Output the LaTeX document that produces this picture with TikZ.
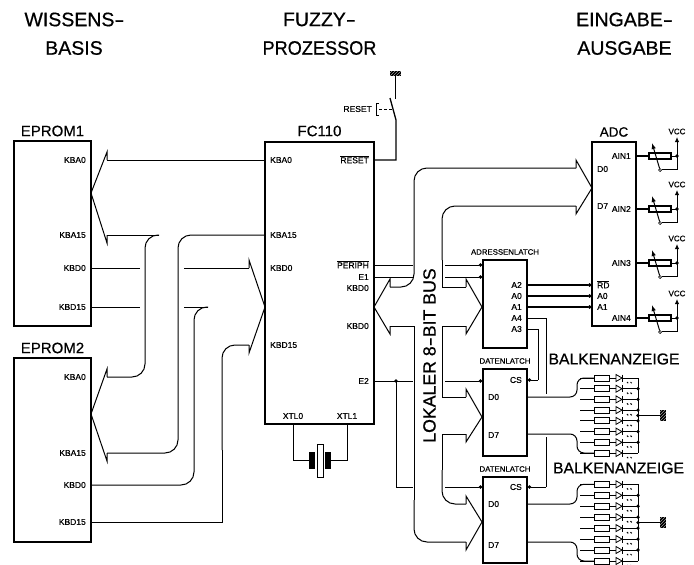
\documentclass[tikz,border=0pt]{standalone}
\usepackage{fontspec}
\setmainfont[FakeBold=0.6]{Liberation Sans}
\usetikzlibrary{arrows.meta,calc}
\newcommand{\fsz}[1]{\fontsize{#1}{#1}\selectfont}
\newcommand{\ovl}[1]{\leavevmode\vbox{\hrule height .7pt \kern .9pt \hbox{#1}}}
\newcommand{\wdash}{\scalebox{1.55}[1]{-}}
\tikzset{
  chip/.style={draw,line width=1.5pt,inner sep=0pt,minimum width=#1},
  lab/.style={font=\fsz{8.5},inner sep=0pt},
  lablatch/.style={font=\fsz{7.8},inner sep=0pt},
  title/.style={font=\fsz{15},inner sep=0pt},
  head/.style={font=\fsz{19.5},inner sep=0pt},
  balken/.style={font=\fsz{15.7},inner sep=0pt},
  wire/.style={line width=1pt},
  bus/.style={line width=1pt,rounded corners=13pt},
  sig/.style={line width=1pt,-{Circle[length=3.4pt,width=3.4pt]}},
}
% bus arrowhead: name, tip x, tip y, barb x, upper notch y, lower notch y
\newcommand{\bushead}[6]{%
  \coordinate (#1-tip) at (#2,#3);
  \coordinate (#1-a) at (#4,#5);
  \coordinate (#1-b) at (#4,#6);
  \draw[wire,line join=miter] (#1-a) -- ++(0,-8) -- (#1-tip) -- ($(#1-b)+(0,8)$) -- (#1-b);
}
% hatched ground block
\newcommand{\hatchblock}[4]{%
  \fill (#1,#2) rectangle (#3,#4);
  \begin{scope}
    \clip (#1,#2) rectangle (#3,#4);
    \foreach \k in {-15,-12,...,15}
      \draw[white,line width=.3pt] (#1+\k,#4) -- ++(14,-14);
  \end{scope}
}
% one row of a bar display
\newcommand{\ledrow}[1]{%
  \draw[wire] (580,#1) -- (594,#1) (609,#1) -- (616,#1) (622,#1) -- (638,#1);
  \draw[line width=1pt] (594,#1-3) rectangle (609,#1+3);
  \draw[line width=.8pt] (616,#1-3.5) -- (616,#1+3.5) -- (622,#1) -- cycle;
  \draw[line width=1.1pt] (622.5,#1-3.5) -- (622.5,#1+3.5);
  \draw[line width=1pt] (627,#1+4) -- (628.2,#1+5.2) (630.5,#1+4) -- (631.7,#1+5.2);
}
% potentiometer of an analog input
\newcommand{\potm}[2]{%
  \coordinate (#2) at (adc.east |- 0,#1);
  \draw[line width=1.2pt] (#2) -- (649,#1);
  \draw[line width=1.1pt] (649,#1-3) rectangle (671,#1+3);
  \draw[wire] (671,#1) -- (677,#1);
  \fill (677,#1) circle (1.8);
  \draw[line width=1pt,-{Latex[length=5pt,width=4.5pt]}] (677,#1) -- (677,#1-19);
  \draw[wire] (677,#1) -- (677,#1+13) -- (661.5,#1+13);
  \draw[line width=.7pt] (660,#1+14) circle (1.5);
  \draw[line width=1pt,-{Latex[length=6pt,width=4.5pt]}] (659.6,#1+12.5) -- (652,#1-13);
  \node[lab,font=\fsz{8}] (vcc#2) at (677,#1-24.5) {VCC};
}
\begin{document}
\begin{tikzpicture}[x=1pt,y=-1pt]
\useasboundingbox (0,0) rectangle (694,565);
% headings
\node[head] (h1a) at (74.5,19.5) {WISSENS\wdash};
\node[head] (h1b) at (74,48) {BASIS};
\node[head] (h2a) at (319.5,19.5) {FUZZY\wdash};
\node[head] (h2b) at (319.5,48) {\scalebox{.93}[1]{PROZESSOR}};
\node[head] (h3a) at (624.5,19.5) {EINGABE\wdash};
\node[head] (h3b) at (624.5,48) {AUSGABE};
% chips
\node[chip=77pt,minimum height=185pt] (ep1) at (52.5,233.5) {};
\node[chip=77pt,minimum height=184pt] (ep2) at (52.5,450) {};
\node[chip=109pt,minimum height=282pt] (fc) at (319.5,283) {};
\node[chip=44pt,minimum height=184pt] (adc) at (614,234) {};
\node[chip=44pt,minimum height=88pt] (al) at (505,304) {};
\node[chip=44pt,minimum height=87pt] (dl1) at (505,412.5) {};
\node[chip=44pt,minimum height=86pt] (dl2) at (505,520) {};
% chip titles
\node[title] (t1) at (52.5,131) {EPROM1};
\node[title] (t2) at (52.5,348) {EPROM2};
\node[title] (t3) at (319.5,131) {FC110};
\node[title,font=\fsz{13.5}] (t4) at (614,132) {ADC};
\node[lablatch] (t5) at (505,252) {ADRESSENLATCH};
\node[lablatch] (t6) at (505,361) {DATENLATCH};
\node[lablatch] (t7) at (505,469) {DATENLATCH};
\node[balken] (b1) at (614,359) {BALKENANZEIGE};
\node[balken] (b2) at (618.5,468) {BALKENANZEIGE};
\node[font=\fsz{17.7},inner sep=0pt,rotate=90] (lb) at (429.5,355.5) {LOKALER 8\wdash BIT BUS};
% pin labels
\foreach \n/\t/\y in {a/KBA0/160,b/KBA15/235,c/KBD0/268,d/KBD15/307}
  \node[lab,anchor=east] (e1\n) at (86,\y) {\t};
\foreach \n/\t/\y in {a/KBA0/377,b/KBA15/453,c/KBD0/485,d/KBD15/522}
  \node[lab,anchor=east] (e2\n) at (86,\y) {\t};
\foreach \n/\t/\y in {a/KBA0/160,b/KBA15/235,c/KBD0/268,d/KBD15/345}
  \node[lab,anchor=west] (fl\n) at (270,\y) {\t};
\node[lab,anchor=east] (fr1) at (369,159.5) {\ovl{RESET}};
\node[lab,anchor=east] (fr2) at (369,264.5) {\ovl{PERIPH}};
\node[lab,anchor=east] (fr3) at (369,277) {E1};
\node[lab,anchor=east] (fr4) at (369,288) {KBD0};
\node[lab,anchor=east] (fr5) at (369,326) {KBD0};
\node[lab,anchor=east] (fr6) at (369,381) {E2};
\node[lab] (x0) at (293,416) {XTL0};
\node[lab] (x1) at (347,416) {XTL1};
\node[lab,anchor=east] (rs) at (372,109) {RESET};
\foreach \n/\t/\y in {a/A2/285,b/A0/296,c/A1/307,d/A4/318,e/A3/329}
  \node[lab,anchor=east] (al\n) at (522,\y) {\t};
\node[lab,anchor=west] (d1a) at (488,397) {D0};
\node[lab,anchor=west] (d1b) at (488,435) {D7};
\node[lab,anchor=east] (d1c) at (522,380) {CS};
\node[lab,anchor=west] (d2a) at (488,504) {D0};
\node[lab,anchor=west] (d2b) at (488,545) {D7};
\node[lab,anchor=east] (d2c) at (522,487) {CS};
\node[lab,anchor=west] (ad0) at (597,169) {D0};
\node[lab,anchor=west] (ad7) at (597,206) {D7};
\node[lab,anchor=west] (ard) at (597,284.5) {\ovl{RD}};
\node[lab,anchor=west] (aa0) at (597,296) {A0};
\node[lab,anchor=west] (aa1) at (597,307) {A1};
\foreach \n/\t/\y in {a/AIN1/156,b/AIN2/209,c/AIN3/263,d/AIN4/318}
  \node[lab,anchor=east] (ai\n) at (631,\y) {\t};
% bus arrowheads
\bushead{hA}{91}{193}{107}{160}{235}
\bushead{hB}{91}{414}{107}{377}{453}
\bushead{hC}{265}{307}{249}{268}{345}
\bushead{hD}{374}{307}{390}{287}{326}
\bushead{hE}{482}{307}{466}{287}{326}
\bushead{hF}{482}{417}{466}{397}{434}
\bushead{hG}{482}{522}{466}{504}{542}
\bushead{hH}{592}{188}{576}{168}{206}
% buses EPROM - FC110
\draw[wire] (fc.west |- 0,160) -- (hA-a);
\draw[wire] (hA-b) -- (159,235);
\draw[bus] (159,235) -- (145,235) -- (145,377) -- (hB-a);
\draw[bus] (fc.west |- 0,235) -- (178,235) -- (178,453) -- (hB-b);
\draw[wire] (ep1.east |- 0,268) -- (140,268);
\draw[wire] (184,268) -- (hC-a);
\draw[wire] (ep1.east |- 0,307) -- (140,307);
\draw[wire] (184,307) -- (208,307);
\draw[bus] (208,307) -- (194,307) -- (194,485) -- (ep2.east |- 0,485);
\draw[bus] (hC-b) -- (222,345) -- (222,450);
\draw[wire] (222,450) -- (222,522) -- (ep2.east |- 0,522);
% local 8-bit bus
\draw[bus] (hD-a) -- (414,287) -- (414,168) -- (hH-a);
\draw[bus] (hH-b) -- (442,206) -- (442,260);
\draw[wire] (442,260) -- (442,287) -- (hE-a);
\draw[wire] (hE-b) -- (442,326) -- (442,397) -- (hF-a);
\draw[wire] (hF-b) -- (442,434) -- (442,470);
\draw[bus] (442,470) -- (442,504) -- (hG-a);
\draw[bus] (hG-b) -- (414,542) -- (414,500);
\draw[wire] (414,500) -- (414,326) -- (hD-b);
% control lines
\draw[wire] (fc.east |- 0,265) -- (413,265);
\draw[sig] (445,265) -- (al.west |- 0,265);
\draw[wire] (fc.east |- 0,277) -- (413,277);
\draw[sig] (445,277) -- (al.west |- 0,277);
\draw[wire] (fc.east |- 0,381) -- (413,381);
\draw[sig] (445,381) -- (dl1.west |- 0,381);
\fill (396,381) circle (1.9);
\draw[wire] (396,381) -- (396,487) -- (413,487);
\draw[sig] (445,487) -- (dl2.west |- 0,487);
\draw[sig,line width=1.2pt] (al.east |- 0,285) -- (adc.west |- 0,285);
\draw[sig,line width=1.2pt] (al.east |- 0,296) -- (adc.west |- 0,296);
\draw[sig,line width=1.2pt] (al.east |- 0,307) -- (adc.west |- 0,307);
\draw[wire] (al.east |- 0,318) -- (546,318) -- (546,394);
\draw[wire] (546,437) -- (546,487);
\draw[sig] (546,487) -- (dl2.east |- 0,487);
\draw[wire] (al.east |- 0,329) -- (538,329) -- (538,380);
\draw[sig] (538,380) -- (dl1.east |- 0,380);
% reset switch
\draw[line width=1.3pt] (fc.east |- 0,160) -- (396,160) -- (396,120) -- (390,98);
\draw[line width=1.2pt] (395.5,99) -- (395.5,76);
\hatchblock{390}{71}{401}{76}
\draw[wire,dash pattern=on 3pt off 2pt] (379,109) -- (393,109);
\draw[wire] (379,103) -- (376.5,103) -- (376.5,115) -- (379,115);
% crystal
\draw[wire] (fc.south -| 293,0) -- (293,460) -- (309,460);
\draw[wire] (fc.south -| 347,0) -- (347,460) -- (331,460);
\fill (309,452) rectangle (315,469);
\fill (325,452) rectangle (331,469);
\draw[line width=1pt] (317,444) rectangle (323,477);
% analog inputs
\potm{156}{pa}
\potm{209}{pb}
\potm{263}{pc}
\potm{318}{pd}
% bar displays
\foreach \y in {378,388.7,399.4,410.1,420.9,431.6,442.3,453} {\ledrow{\y}}
\foreach \y in {484.3,495.3,506.2,517.2,528.1,539.1,550,561} {\ledrow{\y}}
\draw[wire] (638,378) -- (638,453);
\draw[wire] (638,484.3) -- (638,561);
\foreach \y in {388.7,399.4,410.1,415.5,420.9,431.6,442.3} {\fill (638,\y) circle (1.8);}
\foreach \y in {495.3,506.2,517.2,522.7,528.1,539.1,550} {\fill (638,\y) circle (1.8);}
\draw[line width=1.1pt] (638,415.5) -- (660,415.5);
\hatchblock{660}{410}{666}{421}
\draw[line width=1.1pt] (638,522.7) -- (660,522.7);
\hatchblock{660}{517}{666}{528}
\draw[bus,rounded corners=7pt] (dl1.east |- 0,397) -- (577,397) -- (577,378) -- (594,378);
\draw[bus,rounded corners=7pt] (dl1.east |- 0,434) -- (577,434) -- (577,453) -- (594,453);
\draw[bus,rounded corners=7pt] (dl2.east |- 0,504) -- (577,504) -- (577,484.3) -- (594,484.3);
\draw[bus,rounded corners=7pt] (dl2.east |- 0,542) -- (577,542) -- (577,561) -- (594,561);
\end{tikzpicture}
\end{document}
